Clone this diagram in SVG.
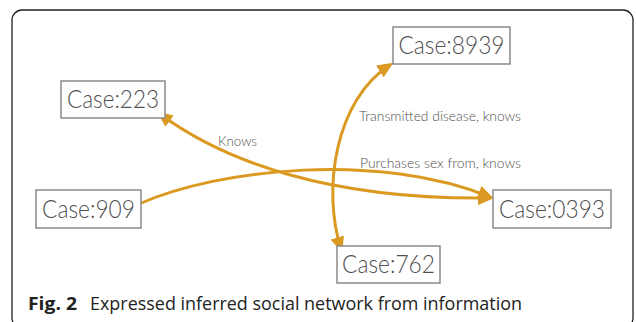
<svg xmlns="http://www.w3.org/2000/svg" width="636" height="322" viewBox="0 0 636 322">
<style>
.frame{fill:#fff;stroke:#222;stroke-width:1.3}
.box{fill:#fff;stroke:#8a8a8a;stroke-width:1.5}
.nt{font-family:Lato,"Liberation Sans",sans-serif;font-weight:300;font-size:26px;fill:#505050;text-anchor:middle}
.el{font-family:Lato,"Liberation Sans",sans-serif;font-weight:300;font-size:13.5px;fill:#505050}
.edge{fill:none;stroke:#DA9A22;stroke-width:3}
.cap{font-family:"Open Sans","Noto Sans","Liberation Sans",sans-serif;font-size:18.5px;fill:#222}
</style>
<defs>
<marker id="ah" markerUnits="userSpaceOnUse" markerWidth="16" markerHeight="14" viewBox="0 0 16 14" refX="12" refY="7" orient="auto-start-reverse">
<path d="M0,0 L16,7 L0,14 z" fill="#DA9A22"/>
</marker>
</defs>
<rect class="frame" x="12" y="10" width="621" height="318" rx="10"/>
<g id="connectors">
<path class="edge" d="M160,114 C225,162 330,200 490,198" marker-start="url(#ah)" marker-end="url(#ah)"/>
<path class="edge" d="M139,204 C220,168 380,152 490,197" marker-end="url(#ah)"/>
<path class="edge" d="M341,249 C322,190 335,100 390,65" marker-start="url(#ah)" marker-end="url(#ah)"/>
<text class="el" x="218" y="146" textLength="39" lengthAdjust="spacingAndGlyphs">Knows</text>
<text class="el" x="359" y="121" textLength="162" lengthAdjust="spacingAndGlyphs">Transmitted disease, knows</text>
<text class="el" x="360" y="168" textLength="161" lengthAdjust="spacingAndGlyphs">Purchases sex from, knows</text>
</g>
<g id="n223"><rect class="box" x="61" y="81" width="104" height="37"/><text class="nt" x="113" y="108" textLength="92" lengthAdjust="spacingAndGlyphs">Case:223</text></g>
<g id="n8939"><rect class="box" x="393" y="27" width="117" height="37"/><text class="nt" x="451.5" y="54" textLength="106" lengthAdjust="spacingAndGlyphs">Case:8939</text></g>
<g id="n909"><rect class="box" x="36" y="190" width="105" height="38"/><text class="nt" x="88.5" y="217.5" textLength="93" lengthAdjust="spacingAndGlyphs">Case:909</text></g>
<g id="n0393"><rect class="box" x="493" y="190" width="118" height="38"/><text class="nt" x="552" y="217.5" textLength="106" lengthAdjust="spacingAndGlyphs">Case:0393</text></g>
<g id="n762"><rect class="box" x="337" y="246" width="103" height="37"/><text class="nt" x="388.5" y="273" textLength="93" lengthAdjust="spacingAndGlyphs">Case:762</text></g>
<text class="cap" x="28" y="310" font-weight="bold" fill="#111" textLength="49" lengthAdjust="spacingAndGlyphs">Fig. 2</text>
<text class="cap" x="90" y="310" textLength="432" lengthAdjust="spacingAndGlyphs">Expressed inferred social network from information</text>
</svg>
